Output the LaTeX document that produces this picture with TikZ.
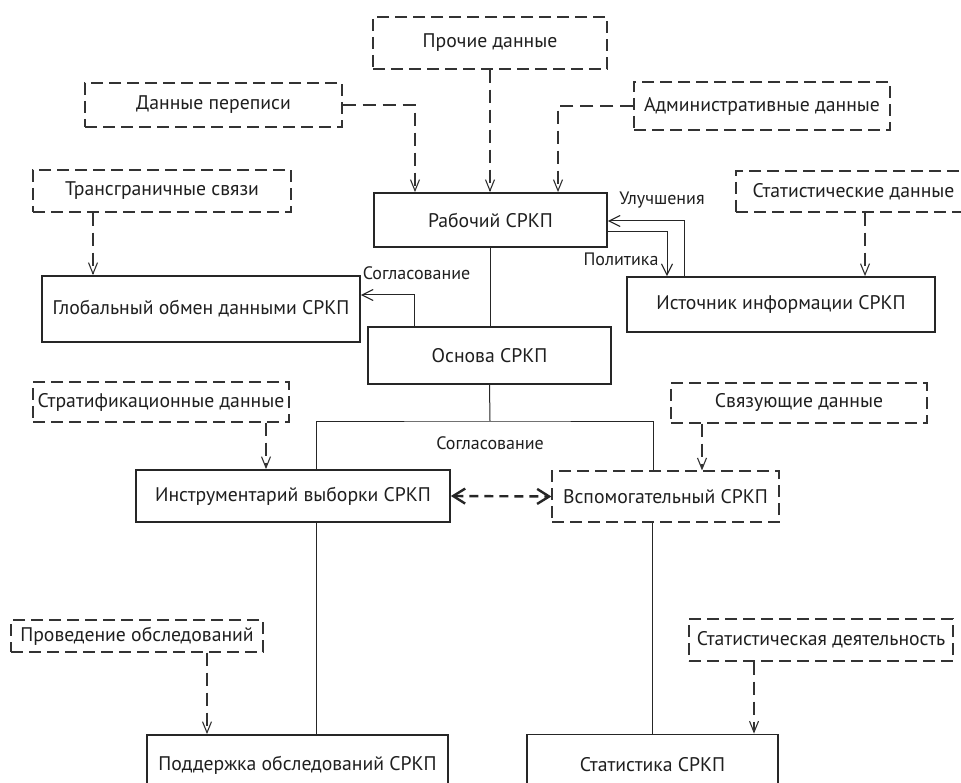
\documentclass[tikz,border=0pt]{standalone}
\usepackage{fontspec}
\setmainfont{PT Sans}
\usetikzlibrary{arrows.meta}
\tikzset{
  x=1pt, y=-1pt,
  every node/.style={font=\fontsize{19.7}{23}\selectfont, inner sep=0pt, text=black!88},
  solidbox/.style={draw=black!85, line width=1.8pt, minimum width=#1},
  dashbox/.style={draw=black!80, line width=1.2pt, dash pattern=on 12pt off 6pt, minimum width=#1},
  conn/.style={draw=black!85, line width=1pt},
  dconn/.style={draw=black!80, line width=1.1pt, dash pattern=on 13pt off 7pt, -{Straight Barb[length=11pt,width=9pt,line width=1.1pt]}},
  sarrow/.style={conn, -{Straight Barb[length=11pt,width=11pt,line width=1.1pt]}},
  biarrow/.style={draw=black!85, line width=2.4pt, dash pattern=on 9pt off 6pt, {Straight Barb[length=12pt,width=15pt,line width=2.4pt]}-{Straight Barb[length=12pt,width=15pt,line width=2.4pt]}},
  lbl/.style={font=\fontsize{18}{21}\selectfont}
}
\begin{document}
\begin{tikzpicture}
\useasboundingbox (0,0) rectangle (961,783);
\clip (0,0) rectangle (961,783);
\fill[white] (0,0) rectangle (961,783);
% boxes
\node[dashbox=234pt, minimum height=52pt] (proch) at (490,43) {Прочие данные};
\node[dashbox=257pt, minimum height=44pt] (perep) at (213.5,105) {Данные переписи};
\node[dashbox=256pt, minimum height=48pt] (admin) at (762,106) {Административные данные};
\node[solidbox=233pt, minimum height=54pt] (rab) at (490.5,220) {Рабочий СРКП};
\node[dashbox=258pt, minimum height=42pt] (trans) at (162,191) {Трансграничные связи};
\node[dashbox=235pt, minimum height=41pt] (stat) at (853.5,191.5) {Статистические данные};
\node[solidbox=318pt, minimum height=66pt] (glob) at (201,309) {Глобальный обмен данными СРКП};
\node[solidbox=308pt, minimum height=55pt] (ist) at (781,304.5) {Источник информации СРКП};
\node[solidbox=243pt, minimum height=57pt] (osn) at (489.5,355.5) {Основа СРКП};
\node[dashbox=256pt, minimum height=40pt] (strat) at (161,402) {Стратификационные данные};
\node[dashbox=256pt, minimum height=40pt] (sv) at (799,403) {Связующие данные};
\node[solidbox=314pt, minimum height=52pt] (instr) at (293,496) {Инструментарий выборки СРКП};
\node[dashbox=227pt, minimum height=51pt] (vsp) at (665.5,496.5) {Вспомогательный СРКП};
\node[dashbox=252pt, minimum height=32pt] (prov) at (137,636) {Проведение обследований};
\node[dashbox=264pt, minimum height=42pt] (statd) at (821,640) {Статистическая деятельность};
\node[solidbox=301pt, minimum height=60pt] (podd) at (297.5,765) {Поддержка обследований СРКП};
\node[solidbox=251pt, minimum height=60pt] (statk) at (652.5,764.5) {Статистика СРКП};
% dashed inputs
\draw[dconn] (perep.east) -| ([xshift=-75.5pt]rab.north);
\draw[dconn] (proch.south) -- (proch.south |- rab.north);
\draw[dconn] (admin.west) -| ([xshift=67.5pt]rab.north);
\draw[dconn] ([xshift=-69pt]trans.south) -- ([xshift=-69pt]trans.south |- glob.north);
\draw[dconn] ([xshift=11.5pt]stat.south) -- ([xshift=11.5pt]stat.south |- ist.north);
\draw[dconn] ([xshift=105pt]strat.south) -- ([xshift=105pt]strat.south |- instr.north);
\draw[dconn] ([xshift=-97pt]sv.south) -- ([xshift=-97pt]sv.south |- vsp.north);
\draw[dconn] ([xshift=70pt]prov.south) -- ([xshift=70pt]prov.south |- podd.north);
\draw[dconn] ([xshift=-67pt]statd.south) -- ([xshift=-67pt]statd.south |- statk.north);
% solid connectors
\draw[conn] (rab.south) -- (rab.south |- osn.north);
\draw[sarrow] ([xshift=-75.5pt]osn.north) |- ([yshift=14pt]glob.east);
\draw[sarrow] ([xshift=-97pt]ist.north) |- ([yshift=-1pt]rab.east);
\draw[sarrow] ([yshift=-12pt]rab.east) -| ([xshift=-114pt]ist.north);
\coordinate (jn) at (490,421);
\draw[conn] (osn.south) -- (jn);
\draw[conn] ([xshift=23pt]instr.north) |- (jn) -| ([xshift=-12.5pt]vsp.north);
\draw[conn] ([xshift=23pt]instr.south) -- ([xshift=23pt]instr.south |- podd.north);
\draw[conn] ([xshift=-13.5pt]vsp.south) -- ([xshift=-13.5pt]vsp.south |- statk.north);
\draw[biarrow] (instr.east) -- (vsp.west);
% labels
\node[lbl] (l1) at (416.5,273) {Согласование};
\node[lbl] (l2) at (662,200) {Улучшения};
\node[lbl] (l3) at (621,259) {Политика};
\node[lbl] (l4) at (490,443) {Согласование};
\end{tikzpicture}
\end{document}
